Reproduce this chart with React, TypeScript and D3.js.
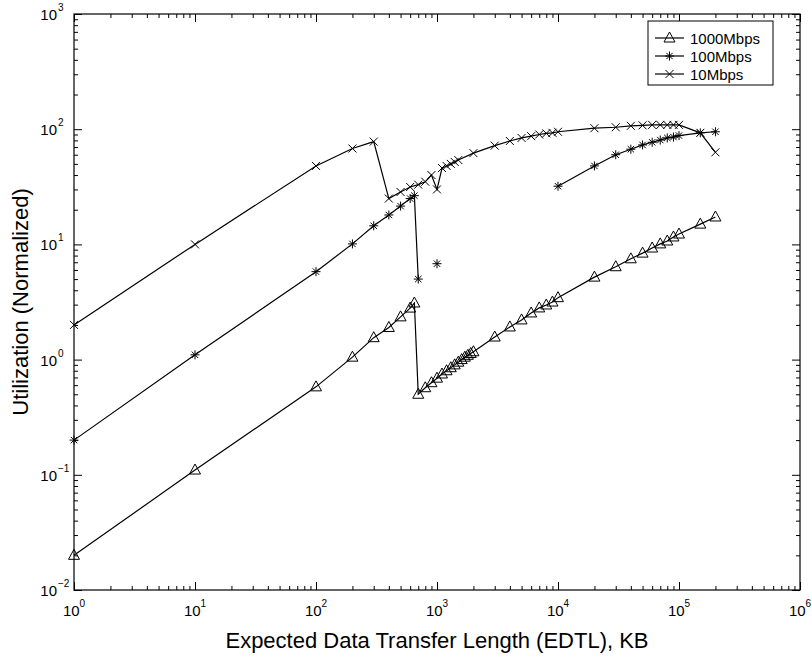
import { useEffect, useRef } from "react";
import * as d3 from "d3";

// EDTL (KB) and normalized utilization
const edtl1000 = [1, 10, 100, 200, 300, 400, 500, 600, 650, 700, 800, 900, 1000, 1100, 1200, 1300, 1400, 1500, 1600, 1700, 1800, 1900, 2000, 3000, 4000, 5000, 6000, 7000, 8000, 9000, 10000, 20000, 30000, 40000, 50000, 60000, 70000, 80000, 90000, 100000, 150000, 200000];
const util1000 = [0.02, 0.11, 0.58, 1.05, 1.55, 1.9, 2.35, 2.8, 3.1, 0.5, 0.57, 0.63, 0.69, 0.75, 0.8, 0.85, 0.9, 0.95, 1.0, 1.05, 1.09, 1.13, 1.17, 1.57, 1.92, 2.21, 2.54, 2.81, 2.98, 3.16, 3.45, 5.2, 6.4, 7.5, 8.4, 9.3, 10.1, 10.7, 11.6, 12.3, 15, 17.3];

// null = no value (line breaks there)
const edtl100 = [1, 10, 100, 200, 300, 400, 500, 600, 650, 700, 800, 1000, 2000, 10000, 20000, 30000, 40000, 50000, 60000, 70000, 80000, 90000, 100000, 150000, 200000];
const util100 = [0.2, 1.1, 5.8, 10.1, 14.5, 18, 21.5, 25, 26.5, 5.0, null, 6.8, null, 32, 48, 60, 67, 73, 77, 80.5, 84, 85.5, 88, 93, 95];

const edtl10 = [1, 10, 100, 200, 300, 400, 500, 600, 700, 800, 900, 1000, 1100, 1200, 1300, 1400, 1500, 2000, 3000, 4000, 5000, 6000, 7000, 8000, 9000, 10000, 20000, 30000, 40000, 50000, 60000, 70000, 80000, 90000, 100000, 150000, 200000];
const util10 = [2, 10, 48, 68, 78, 25, 28.5, 31.5, 33, 35, 40, 30, 46, 48, 50, 52, 54, 62, 72, 79, 84, 87, 90, 92, 93, 95, 102, 104, 107, 108, 109, 109, 109, 109, 109, 93, 63];

const seriesNames = ["1000Mbps", "100Mbps", "10Mbps"];
const xDecades = [0, 1, 2, 3, 4, 5, 6];
const yDecades = [-2, -1, 0, 1, 2, 3];

const markerPaths: Record<string, string> = {
    triangle: "M0,-6L5.5,4L-5.5,4Z",
    star: "M-4.5,0H4.5M0,-4.5V4.5M-3.2,-3.2L3.2,3.2M-3.2,3.2L3.2,-3.2",
    cross: "M-4,-4L4,4M-4,4L4,-4",
};

export default function App() {
    const ref = useRef<SVGSVGElement>(null);

    useEffect(() => {
        buildGraph();
    }, []);

    function buildGraph({
        width = 812,
        height = 657,
        marginTop = 14,
        marginRight = 12,
        marginBottom = 67,
        marginLeft = 74,
    } = {}) {
        const svg = d3.select(ref.current);
        svg.selectAll("*").remove();

        const x = d3.scaleLog().domain([1, 1e6]).range([marginLeft, width - marginRight]);
        const y = d3.scaleLog().domain([1e-2, 1e3]).range([height - marginBottom, marginTop]);

        const font = "'Liberation Sans', Arial, Helvetica, sans-serif";

        const series = [
            { name: seriesNames[0], xs: edtl1000, ys: util1000, marker: "triangle" },
            { name: seriesNames[1], xs: edtl100, ys: util100, marker: "star" },
            { name: seriesNames[2], xs: edtl10, ys: util10, marker: "cross" },
        ];

        // minor / major tick values
        const minorX = xDecades.slice(0, -1).flatMap(d => d3.range(2, 10).map(k => k * 10 ** d));
        const majorX = xDecades.map(d => 10 ** d);
        const minorY = yDecades.slice(0, -1).flatMap(d => d3.range(2, 10).map(k => k * 10 ** d));
        const majorY = yDecades.map(d => 10 ** d);

        const x0 = marginLeft, x1 = width - marginRight;
        const y0 = height - marginBottom, y1 = marginTop;

        const axes: [any, number][] = [
            [d3.axisBottom, y0],
            [d3.axisTop, y1],
        ];
        axes.forEach(([ax, ty]) => {
            svg.append("g").attr("transform", `translate(0,${ty})`)
                .call(ax(x).tickValues(minorX).tickSize(-4).tickSizeOuter(0).tickFormat(() => ""))
                .call((g: any) => g.select(".domain").remove());
            svg.append("g").attr("transform", `translate(0,${ty})`)
                .call(ax(x).tickValues(majorX).tickSize(-8).tickSizeOuter(0).tickFormat(() => ""))
                .call((g: any) => g.select(".domain").remove());
        });
        const yaxes: [any, number][] = [
            [d3.axisLeft, x0],
            [d3.axisRight, x1],
        ];
        yaxes.forEach(([ax, tx]) => {
            svg.append("g").attr("transform", `translate(${tx},0)`)
                .call(ax(y).tickValues(minorY).tickSize(-4).tickSizeOuter(0).tickFormat(() => ""))
                .call((g: any) => g.select(".domain").remove());
            svg.append("g").attr("transform", `translate(${tx},0)`)
                .call(ax(y).tickValues(majorY).tickSize(-8).tickSizeOuter(0).tickFormat(() => ""))
                .call((g: any) => g.select(".domain").remove());
        });
        svg.selectAll(".tick line").attr("stroke", "#000").attr("stroke-width", 1);

        svg.append("rect")
            .attr("x", x0).attr("y", y1)
            .attr("width", x1 - x0).attr("height", y0 - y1)
            .attr("fill", "none").attr("stroke", "#000").attr("stroke-width", 1.2);

        // x tick labels
        const xl = svg.append("g").attr("font-family", font).attr("fill", "#000");
        xDecades.forEach(d => {
            const t = xl.append("text")
                .attr("x", x(10 ** d)).attr("y", y0 + 26)
                .attr("text-anchor", "middle").attr("font-size", 15);
            t.append("tspan").text("10");
            t.append("tspan").attr("font-size", 10).attr("dy", -9).text(String(d));
        });

        // y tick labels
        const yl = svg.append("g").attr("font-family", font).attr("fill", "#000");
        yDecades.forEach(d => {
            const yy = y(10 ** d);
            yl.append("text")
                .attr("x", x0 - 17).attr("y", yy + 6)
                .attr("text-anchor", "end").attr("font-size", 15).text("10");
            yl.append("text")
                .attr("x", x0 - 16).attr("y", yy - 3)
                .attr("text-anchor", "start").attr("font-size", 10)
                .text(d < 0 ? `\u2212${-d}` : String(d));
        });

        // axis titles
        svg.append("text")
            .attr("x", (x0 + x1) / 2).attr("y", 648)
            .attr("text-anchor", "middle").attr("font-family", font).attr("font-size", 22)
            .text("Expected Data Transfer Length (EDTL), KB");
        svg.append("text")
            .attr("transform", `translate(28,${(y0 + y1) / 2}) rotate(-90)`)
            .attr("text-anchor", "middle").attr("font-family", font).attr("font-size", 22)
            .text("Utilization (Normalized)");

        // series
        series.forEach(s => {
            const pts = s.xs.map((v, i) => [v, s.ys[i]] as [number, number | null]);
            const line = d3.line<[number, number | null]>()
                .defined(d => d[1] != null)
                .x(d => x(d[0]))
                .y(d => y(d[1] as number));
            svg.append("path")
                .datum(pts)
                .attr("fill", "none").attr("stroke", "#000").attr("stroke-width", 1.2)
                .attr("d", line);
            svg.append("g")
                .selectAll("path")
                .data(pts.filter(d => d[1] != null))
                .join("path")
                .attr("transform", d => `translate(${x(d[0])},${y(d[1] as number)})`)
                .attr("d", markerPaths[s.marker])
                .attr("fill", "none").attr("stroke", "#000").attr("stroke-width", 1);
        });

        // legend
        const lg = svg.append("g").attr("font-family", font);
        const lx = 648, ly = 21, lw = 125, lh = 64;
        lg.append("rect").attr("x", lx).attr("y", ly).attr("width", lw).attr("height", lh)
            .attr("fill", "#fff").attr("stroke", "#000").attr("stroke-width", 1);
        series.forEach((s, i) => {
            const cy = ly + 17 + i * 18;
            lg.append("line").attr("x1", lx + 7).attr("x2", lx + 36).attr("y1", cy).attr("y2", cy)
                .attr("stroke", "#000").attr("stroke-width", 1.2);
            lg.append("path").attr("transform", `translate(${lx + 21.5},${cy})`)
                .attr("d", markerPaths[s.marker]).attr("fill", "none").attr("stroke", "#000");
            lg.append("text").attr("x", lx + 42).attr("y", cy + 5.5).attr("font-size", 15)
                .text(s.name);
        });
    }

    return (
        <svg ref={ref} width={812} height={657}
            style={{ position: "absolute", left: 0, top: 0, background: "#fff" }} />
    );
}
